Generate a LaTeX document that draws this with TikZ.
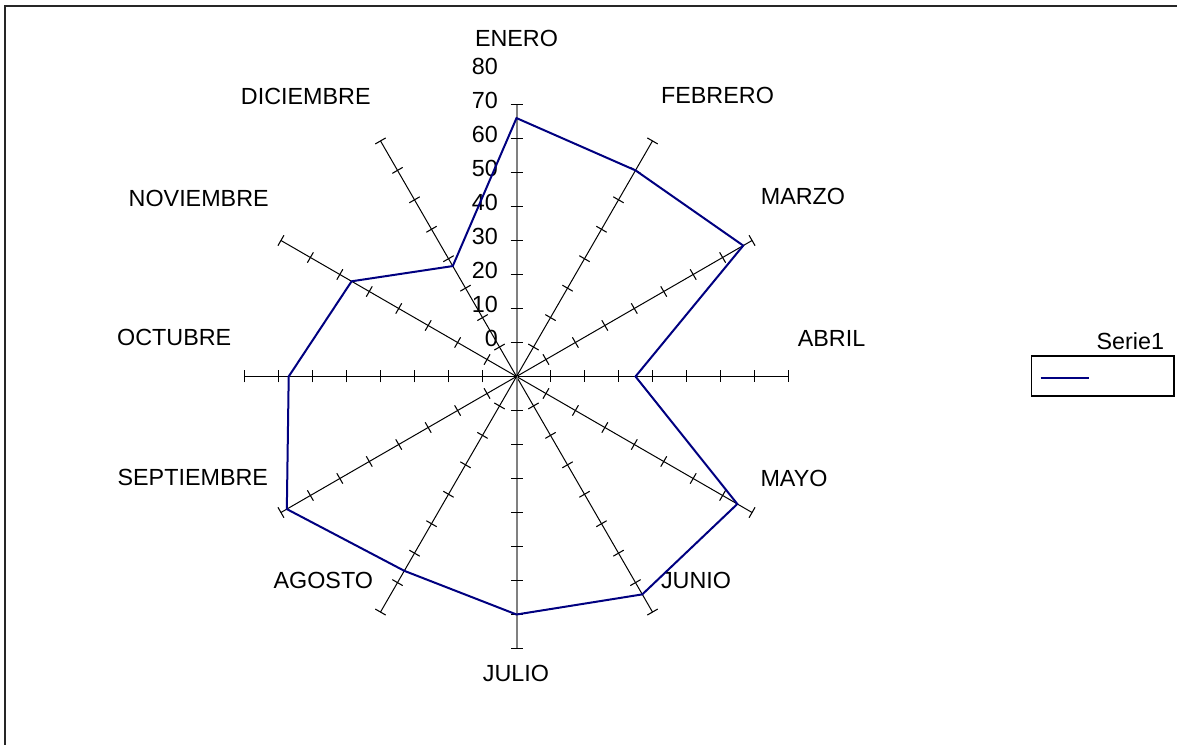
\documentclass[tikz,border=0pt]{standalone}
\usepackage{fontspec}
\setmainfont{Liberation Sans}
\definecolor{serie}{RGB}{0,0,128}

\begin{document}
\begin{tikzpicture}[x=0.75pt,y=0.75pt,
    lbl/.style={font=\fontsize{17.5}{21}\selectfont,inner sep=0pt},
    tck/.style={line width=0.8pt}]

\useasboundingbox (0,0) rectangle (1177,745);
\draw[line width=1.5pt,black!85] (4.5,0) -- (4.5,738.5) -- (1177,738.5);

\coordinate (c) at (516.5,368.5);

\foreach \i in {0,...,11} {
  \begin{scope}[shift={(c)},rotate=-30*\i]
    \ifodd\i \draw[line width=0.75pt] (0,0) -- (0,272) coordinate (end\i);
    \else \ifnum\i=0 \draw[line width=1.5pt,gray] (0,0) -- (0,272) coordinate (end\i);
    \else \ifnum\i=6 \draw[line width=1.5pt,gray] (0,0) -- (0,272) coordinate (end\i);
    \else \draw[line width=0.75pt] (0,0) -- (0,272) coordinate (end\i); \fi\fi\fi
    \foreach \k in {1,...,8} \draw[tck] (-6,34*\k) -- (6,34*\k);
  \end{scope}
}

\foreach \v [count=\k] in {0,10,...,80}
  \node[lbl,anchor=east] (val\v) at ([shift={(-18.5,34*\k+4)}]c) {\v};

\foreach \m/\dx/\dy [count=\i from 0] in {ENERO/0/338.5, FEBRERO/201/281.5, MARZO/286.5/179.8,
    ABRIL/315/38.5, MAYO/277.5/-101.5, JUNIO/179.5/-203.5, JULIO/-0.5/-296.8,
    AGOSTO/-193.2/-203.5, SEPTIEMBRE/-323.7/-100.8, OCTUBRE/-342.3/38.8,
    NOVIEMBRE/-317.8/178.2, DICIEMBRE/-210.7/280.5}
  \node[lbl] (mes\i) at ([shift={(\dx,\dy)}]c) {\m};

\foreach \r [count=\i from 0] in {76,70,77,35,75,74,70,66,78,67,56,37.5}
  \coordinate (p\i) at ([shift={(90-30*\i:3.4*\r)}]c);
\draw[serie,line width=1.5pt,line join=miter] (p0) \foreach \i in {1,...,11} {-- (p\i)} -- cycle;

\draw[line width=0.8pt] (1031.7,349) rectangle (1174,389);
\coordinate (la) at (1040.7,366.7);
\coordinate (lb) at (1089.3,366.7);
\draw[serie,line width=1.5pt] (la) -- (lb);
\node[lbl] (serie1) at (1130.3,404.3) {Serie1};

\end{tikzpicture}
\end{document}
